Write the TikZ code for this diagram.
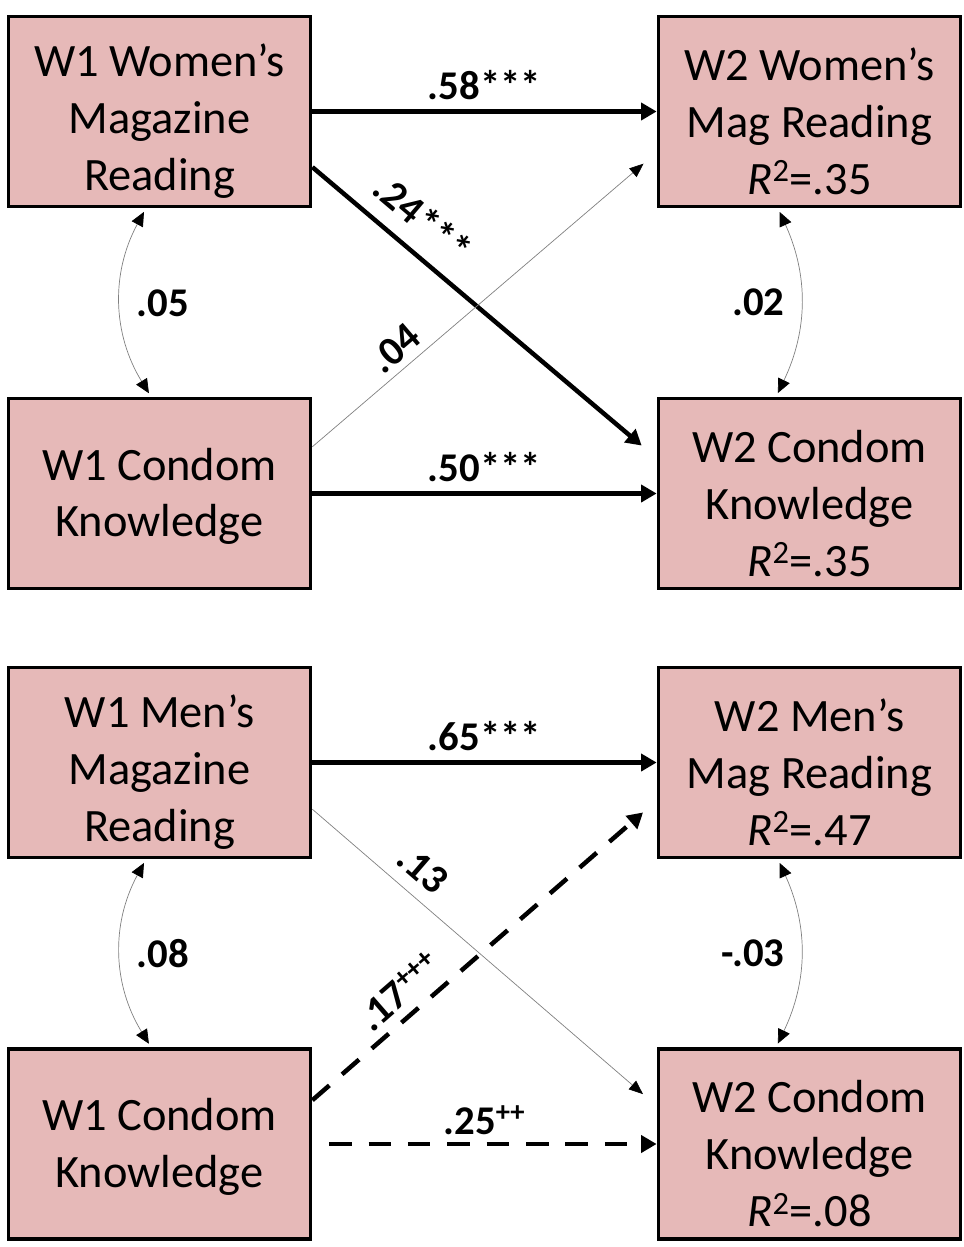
\documentclass[tikz,border=0pt]{standalone}
\usepackage{fontspec}
\setmainfont{Carlito}
\usetikzlibrary{arrows.meta}
\definecolor{boxpink}{HTML}{E6B9B8}
\newcommand{\lift}[1][37pt]{\rule{0pt}{#1}}

\begin{document}
\begin{tikzpicture}[x=0.025cm,y=-0.025cm,
    var/.style={draw,line width=2.6pt,fill=boxpink,minimum width=7.55cm,minimum height=4.75cm,
        inner sep=0pt,align=center,font=\fontsize{33}{40.5}\selectfont},
    strong/.style={line width=3.2pt,-{Triangle[length=11pt,width=12pt]}},
    trend/.style={strong,dash pattern=on 16pt off 12pt},
    weak/.style={line width=0.5pt,gray,-{Triangle[length=10pt,width=8pt,black]}},
    cov/.style={line width=0.5pt,gray,shorten <=0.1cm,shorten >=0.1cm,
        {Triangle[length=10pt,width=9pt,black]}-{Triangle[length=10pt,width=9pt,black]}},
    coef/.style={text=black,font=\fontsize{29}{34}\selectfont\bfseries,inner sep=1pt}]
    \useasboundingbox (0,0) rectangle (964,1247);
    % Women: boxes
    \node[var] (w1w) at (159.5,111.5) {\lift W1 Women’s\\Magazine\\Reading};
    \node[var] (w2w) at (809.5,111.5) {\lift W2 Women’s\\Mag Reading\\\textit{R}\textsuperscript{2}=.35};
    \node[var] (w1c) at (159.5,493.5) {\lift[27pt]W1 Condom\\Knowledge};
    \node[var] (w2c) at (809.5,493.5) {\lift W2 Condom\\Knowledge\\\textit{R}\textsuperscript{2}=.35};
    % Women: paths
    \draw[strong] (w1w.east) -- (w2w.west) node[coef,midway,above=6pt] {.58***};
    \draw[strong] (w1c.east) -- (w2c.west) node[coef,midway,above=6pt] {.50***};
    \draw[strong,shorten >=0.49cm] (w1w.-20) -- (w2c.167) node[coef,pos=0.26,sloped,above=10pt] {.24***};
    \draw[weak,shorten >=0.43cm] (w1c.17.5) -- (w2w.195.2) node[coef,pos=0.28,sloped,above=4pt] {.04};
    \draw[cov] (w1w.-98.5) to[bend right=30] node[coef,right=10pt] {.05} (w1c.95.7);
    \draw[cov] (w2w.-108.6) to[bend left=25] node[coef,left=10pt] {.02} (w2c.109.9);
    % Men: boxes
    \node[var] (w1m) at (159.5,762.5) {\lift W1 Men’s\\Magazine\\Reading};
    \node[var] (w2m) at (809.5,762.5) {\lift W2 Men’s\\Mag Reading\\\textit{R}\textsuperscript{2}=.47};
    \node[var] (w1k) at (159.5,1144) {\lift[27pt]W1 Condom\\Knowledge};
    \node[var] (w2k) at (809.5,1144) {\lift W2 Condom\\Knowledge\\\textit{R}\textsuperscript{2}=.08};
    % Men: paths
    \draw[strong] (w1m.east) -- (w2m.west) node[coef,midway,above=6pt] {.65***};
    \draw[trend,dash phase=16pt] (w1k.east) -- (w2k.west) node[coef,midway,above=4pt] {.25\textsuperscript{++}};
    \draw[weak,shorten >=0.45cm] (w1m.-17.9) -- (w2k.166) node[coef,pos=0.27,sloped,above=8pt] {.13};
    \draw[trend,shorten >=0.45cm] (w1k.16) -- (w2m.194.9) node[coef,pos=0.3,sloped,above=5pt] {.17\textsuperscript{+++}};
    \draw[cov] (w1m.-98.5) to[bend right=30] node[coef,right=10pt] {.08} (w1k.95.7);
    \draw[cov] (w2m.-108.6) to[bend left=25] node[coef,left=10pt] {-.03} (w2k.109.9);
\end{tikzpicture}
\end{document}
